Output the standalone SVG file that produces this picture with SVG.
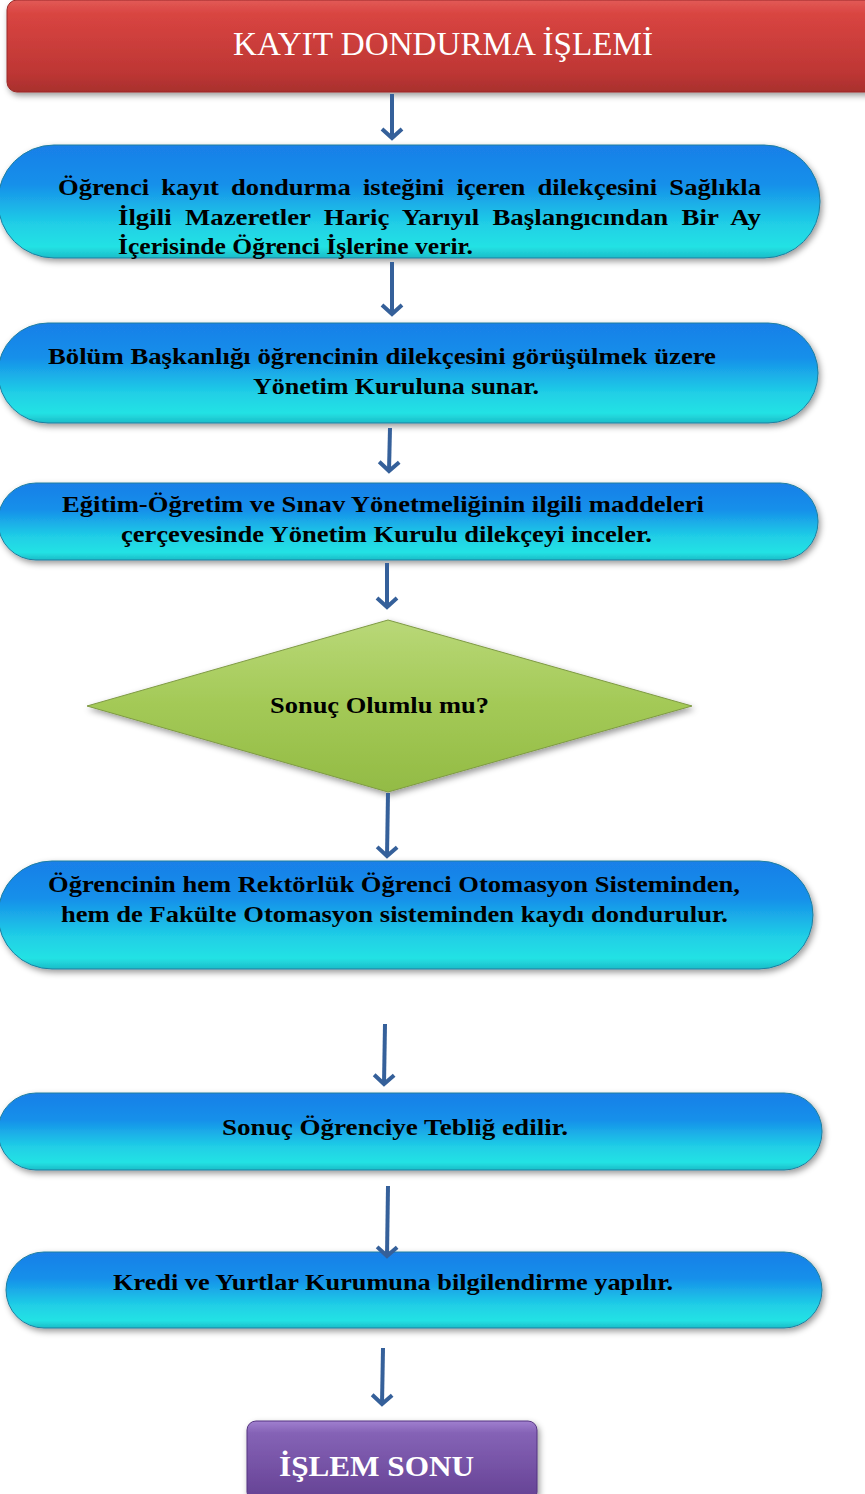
<svg xmlns="http://www.w3.org/2000/svg" width="865" height="1494" viewBox="0 0 865 1494">
  <defs>
    <linearGradient id="gBlue" x1="0" y1="0" x2="0" y2="1">
      <stop offset="0" stop-color="#1a7fe8"/>
      <stop offset="0.35" stop-color="#1690ea"/>
      <stop offset="0.7" stop-color="#20cfe6"/>
      <stop offset="0.9" stop-color="#24e2e4"/>
      <stop offset="1" stop-color="#1bbcc8"/>
    </linearGradient>
    <linearGradient id="gRed" x1="0" y1="0" x2="0" y2="1">
      <stop offset="0" stop-color="#e25a57"/>
      <stop offset="0.15" stop-color="#d94541"/>
      <stop offset="0.8" stop-color="#bd3634"/>
      <stop offset="1" stop-color="#a82f2d"/>
    </linearGradient>
    <linearGradient id="gGreen" x1="0" y1="0" x2="0" y2="1">
      <stop offset="0" stop-color="#b9d878"/>
      <stop offset="0.5" stop-color="#a3c956"/>
      <stop offset="1" stop-color="#93bb45"/>
    </linearGradient>
    <linearGradient id="gPurple" x1="0" y1="0" x2="0" y2="1">
      <stop offset="0" stop-color="#a07fcf"/>
      <stop offset="0.15" stop-color="#8563b6"/>
      <stop offset="1" stop-color="#644193"/>
    </linearGradient>
    <filter id="shadow" x="-5%" y="-10%" width="110%" height="130%">
      <feDropShadow dx="2" dy="3" stdDeviation="3" flood-color="#000" flood-opacity="0.4"/>
    </filter>
    <marker id="chev" markerUnits="userSpaceOnUse" viewBox="0 0 14 24" refX="11" refY="12" markerWidth="14" markerHeight="24" orient="auto">
      <path d="M2,2 L11,12 L2,22" fill="none" stroke="#35609a" stroke-width="4" stroke-linejoin="miter"/>
    </marker>
  </defs>
  <style>
    .pill { fill: url(#gBlue); stroke: #1f7fa0; stroke-width: 1; filter: url(#shadow); }
    .t { font-family: "Liberation Serif", "DejaVu Serif", serif; font-weight: bold; font-size: 24px; fill: #000; }
    .head { font-family: "Liberation Serif", "DejaVu Serif", serif; fill: #fff; }
    .arrow { fill: none; stroke: #35609a; stroke-width: 4; marker-end: url(#chev); }
  </style>

  <g id="start">
    <rect x="7" y="0" width="870" height="92" rx="10" fill="url(#gRed)" stroke="#9a2b29" stroke-width="1" filter="url(#shadow)"/>
    <text class="head" x="443" y="55" font-size="33" text-anchor="middle" textLength="420" lengthAdjust="spacingAndGlyphs">KAYIT DONDURMA İŞLEMİ</text>
  </g>

  <g id="step1">
    <rect class="pill" x="-2" y="145" width="822" height="113" rx="56"/>
    <text class="t" x="58" y="195" word-spacing="5" textLength="703" lengthAdjust="spacingAndGlyphs">Öğrenci kayıt dondurma isteğini içeren dilekçesini Sağlıkla</text>
    <text class="t" x="118" y="225" word-spacing="6" textLength="643" lengthAdjust="spacingAndGlyphs">İlgili Mazeretler Hariç Yarıyıl Başlangıcından Bir Ay</text>
    <text class="t" x="118" y="254" textLength="355" lengthAdjust="spacingAndGlyphs">İçerisinde Öğrenci İşlerine verir.</text>
  </g>

  <g id="step2">
    <rect class="pill" x="-2" y="323" width="820" height="100" rx="50"/>
    <text class="t" x="48" y="364" textLength="668" lengthAdjust="spacingAndGlyphs">Bölüm Başkanlığı öğrencinin dilekçesini görüşülmek üzere</text>
    <text class="t" x="253" y="394" textLength="286" lengthAdjust="spacingAndGlyphs">Yönetim Kuruluna sunar.</text>
  </g>

  <g id="step3">
    <rect class="pill" x="-2" y="483" width="820" height="77" rx="38"/>
    <text class="t" x="62" y="512" textLength="642" lengthAdjust="spacingAndGlyphs">Eğitim-Öğretim ve Sınav Yönetmeliğinin ilgili maddeleri</text>
    <text class="t" x="121" y="542" textLength="531" lengthAdjust="spacingAndGlyphs">çerçevesinde Yönetim Kurulu dilekçeyi inceler.</text>
  </g>

  <g id="decision">
    <polygon points="388,620 692,706 388,792 87,706" fill="url(#gGreen)" stroke="#7f9a45" stroke-width="1" filter="url(#shadow)"/>
    <text class="t" x="270" y="713" textLength="219" lengthAdjust="spacingAndGlyphs">Sonuç Olumlu mu?</text>
  </g>

  <g id="step4">
    <rect class="pill" x="-2" y="861" width="815" height="108" rx="54"/>
    <text class="t" x="48" y="892" textLength="692" lengthAdjust="spacingAndGlyphs">Öğrencinin hem Rektörlük Öğrenci Otomasyon Sisteminden,</text>
    <text class="t" x="61" y="922" textLength="667" lengthAdjust="spacingAndGlyphs">hem de Fakülte Otomasyon sisteminden kaydı dondurulur.</text>
  </g>

  <g id="step5">
    <rect class="pill" x="-2" y="1093" width="824" height="77" rx="38"/>
    <text class="t" x="222" y="1135" textLength="346" lengthAdjust="spacingAndGlyphs">Sonuç Öğrenciye Tebliğ edilir.</text>
  </g>

  <g id="step6">
    <rect class="pill" x="6" y="1252" width="816" height="76" rx="38"/>
    <text class="t" x="113" y="1290" textLength="560" lengthAdjust="spacingAndGlyphs">Kredi ve Yurtlar Kurumuna bilgilendirme yapılır.</text>
  </g>

  <g id="end">
    <rect x="247" y="1421" width="290" height="80" rx="9" fill="url(#gPurple)" stroke="#553580" stroke-width="1" filter="url(#shadow)"/>
    <text class="head" x="279" y="1476" font-size="30" font-weight="bold" textLength="195" lengthAdjust="spacingAndGlyphs">İŞLEM SONU</text>
  </g>

  <g id="connectors">
    <line class="arrow" x1="392" y1="94" x2="392" y2="138"/>
    <line class="arrow" x1="392" y1="262" x2="392" y2="314"/>
    <line class="arrow" x1="390" y1="428" x2="389" y2="471"/>
    <line class="arrow" x1="387" y1="563" x2="387" y2="607"/>
    <line class="arrow" x1="388" y1="793" x2="387" y2="856"/>
    <line class="arrow" x1="385" y1="1024" x2="384" y2="1084"/>
    <line class="arrow" x1="388" y1="1186" x2="387" y2="1256"/>
    <line class="arrow" x1="383" y1="1348" x2="382" y2="1404"/>
  </g>
</svg>
